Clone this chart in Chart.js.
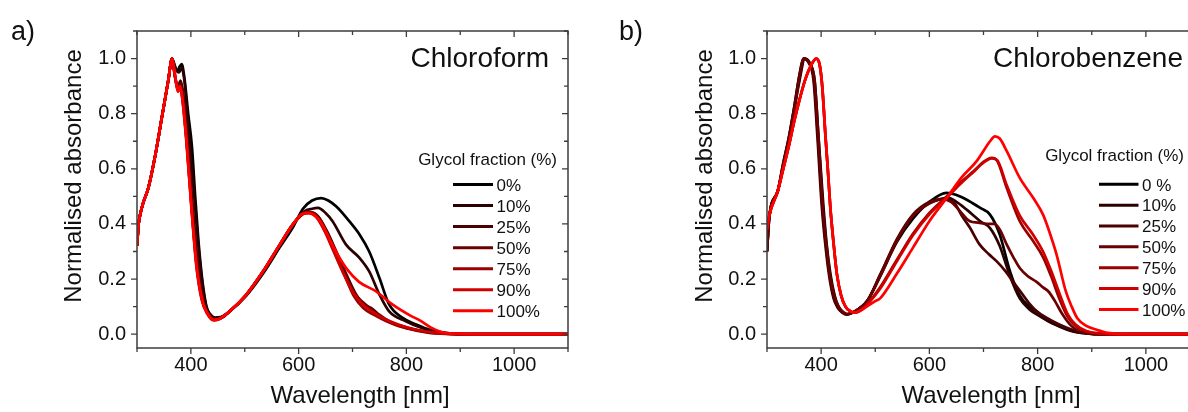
<!DOCTYPE html>
<html>
<head>
<meta charset="utf-8">
<script src="https://cdn.jsdelivr.net/npm/chart.js@4/dist/chart.umd.min.js"></script>
<style>
html,body{margin:0;padding:0;background:#fff;}
body{width:1188px;height:412px;overflow:hidden;position:relative;}
#cL{position:absolute;left:0;top:0;}
#cR{position:absolute;left:600px;top:0;}
</style>
</head>
<body>
<canvas id="cL" width="600" height="412"></canvas>
<canvas id="cR" width="640" height="412"></canvas>
<script>
// ---------- shared labels / ticks ----------
const seriesLabelsCF = ['0%','10%','25%','50%','75%','90%','100%'];
const seriesLabelsCB = ['0 %','10%','25%','50%','75%','90%','100%'];
const seriesColors = ['#000000','#2b0000','#4a0000','#6b0000','#990000','#d00000','#ff0000'];
const xTickValues = [400,600,800,1000];
const yTickValues = [0,0.2,0.4,0.6,0.8,1.0];

// ---------- Chloroform (a) ----------
const cf0_wl  = [300,303,306,312,321,334,346,358,365,370,375,379,383,388,395,402,408,414,421,429,437,445,455,472,503,534,565,590,608,625,642,655,670,694,713,731,750,768,793,818,845,880,920,1100];
const cf0_abs = [0.32,0.40,0.435,0.48,0.53,0.65,0.785,0.92,1.0,0.975,0.955,0.97,0.98,0.93,0.80,0.68,0.50,0.34,0.20,0.10,0.07,0.06,0.062,0.083,0.14,0.22,0.315,0.39,0.455,0.485,0.494,0.485,0.463,0.41,0.362,0.30,0.204,0.108,0.059,0.035,0.015,0.003,0,0];

const cf10_wl  = [300,303,306,312,321,334,346,358,365,372,378,383,388,395,402,408,414,421,429,437,445,455,472,503,534,565,590,610,625,636,650,663,688,713,731,750,768,799,825,850,880,920,1100];
const cf10_abs = [0.32,0.40,0.435,0.48,0.53,0.65,0.785,0.92,1.0,0.96,0.95,0.965,0.92,0.76,0.60,0.46,0.32,0.19,0.095,0.068,0.058,0.06,0.083,0.142,0.225,0.32,0.40,0.445,0.455,0.458,0.44,0.41,0.325,0.277,0.228,0.144,0.083,0.047,0.025,0.01,0.002,0,0];

const cf25_wl  = [300,303,306,312,321,334,346,358,365,371,376,381,386,393,400,407,414,422,431,440,448,460,472,503,534,565,590,610,620,635,651,670,688,705,720,735,750,770,800,840,880,920,1100];
const cf25_abs = [0.32,0.40,0.435,0.48,0.53,0.65,0.785,0.92,1.0,0.93,0.90,0.92,0.87,0.72,0.55,0.38,0.24,0.13,0.08,0.058,0.055,0.062,0.083,0.143,0.227,0.323,0.40,0.44,0.443,0.43,0.38,0.30,0.22,0.15,0.11,0.095,0.07,0.045,0.025,0.008,0.001,0,0];

const cf50_wl  = [300,303,306,312,321,334,346,358,365,371,376,381,385,392,400,408,416,424,433,443,452,472,503,534,565,590,612,622,637,652,670,688,705,720,735,755,775,800,840,880,920,1100];
const cf50_abs = [0.32,0.40,0.435,0.48,0.53,0.65,0.785,0.92,1.0,0.93,0.89,0.91,0.87,0.71,0.50,0.31,0.18,0.11,0.07,0.053,0.055,0.083,0.144,0.228,0.325,0.40,0.44,0.442,0.425,0.37,0.29,0.21,0.145,0.115,0.09,0.06,0.04,0.022,0.006,0.001,0,0];

const cf75_wl  = [300,303,306,312,321,334,346,358,365,370,376,380,384,392,401,410,420,431,442,452,472,503,534,565,590,610,620,635,650,668,686,702,720,740,760,785,810,850,890,920,1100];
const cf75_abs = [0.32,0.40,0.435,0.48,0.53,0.65,0.785,0.92,1.0,0.94,0.885,0.90,0.86,0.70,0.47,0.26,0.13,0.075,0.052,0.055,0.083,0.144,0.228,0.325,0.40,0.438,0.44,0.425,0.37,0.29,0.21,0.14,0.095,0.07,0.05,0.03,0.018,0.005,0.001,0,0];

const cf90_wl  = [300,303,306,312,321,334,346,358,365,370,376,380,384,392,401,410,420,431,442,452,472,503,534,565,590,608,618,632,648,665,682,700,718,738,760,785,810,850,890,920,1100];
const cf90_abs = [0.32,0.40,0.435,0.48,0.53,0.65,0.785,0.92,1.0,0.945,0.88,0.895,0.855,0.69,0.46,0.25,0.125,0.072,0.05,0.054,0.083,0.144,0.228,0.325,0.40,0.437,0.44,0.427,0.375,0.30,0.225,0.155,0.11,0.08,0.055,0.035,0.02,0.006,0.001,0,0];

const cf100_wl  = [300,303,306,312,321,334,346,358,365,370,376,380,384,392,401,411,423,433,443,452,472,503,534,565,590,605,615,630,645,660,675,690,712,744,774,805,825,845,865,890,950,1100];
const cf100_abs = [0.32,0.40,0.435,0.48,0.53,0.65,0.785,0.92,1.0,0.95,0.88,0.90,0.86,0.70,0.46,0.24,0.11,0.07,0.052,0.055,0.083,0.144,0.228,0.325,0.40,0.435,0.44,0.43,0.395,0.335,0.28,0.235,0.19,0.155,0.108,0.07,0.05,0.025,0.008,0.002,0,0];

// ---------- Chlorobenzene (b) ----------
const cb0_wl  = [300,304,320,330,340,350,360,370,380,388,395,404,410,417,425,432,440,448,460,485,509,540,570,600,632,650,663,680,694,712,730,749,767,785,800,817,840,865,890,920,1100];
const cb0_abs = [0.30,0.42,0.52,0.61,0.70,0.81,0.92,1.0,0.98,0.92,0.72,0.47,0.33,0.22,0.14,0.10,0.08,0.072,0.08,0.12,0.21,0.335,0.42,0.48,0.513,0.505,0.494,0.475,0.458,0.434,0.362,0.228,0.14,0.10,0.08,0.05,0.03,0.012,0.003,0,0];

const cb10_wl  = [300,304,320,330,340,350,360,368,378,387,394,402,408,416,424,432,440,448,460,485,509,540,570,600,620,635,650,670,694,712,730,749,767,785,800,817,840,865,890,920,1100];
const cb10_abs = [0.30,0.42,0.52,0.62,0.71,0.82,0.94,1.0,0.985,0.92,0.72,0.47,0.34,0.21,0.13,0.095,0.078,0.072,0.08,0.12,0.215,0.34,0.43,0.475,0.49,0.495,0.48,0.45,0.41,0.385,0.32,0.21,0.13,0.09,0.07,0.05,0.028,0.01,0.003,0,0];

const cb25_wl  = [300,304,320,330,340,350,360,367,377,386,393,401,407,415,423,431,439,447,460,485,509,540,570,600,630,645,660,675,693,710,724,740,755,770,786,800,817,840,865,890,920,1100];
const cb25_abs = [0.30,0.42,0.52,0.62,0.71,0.82,0.94,1.0,0.985,0.92,0.72,0.47,0.34,0.21,0.13,0.095,0.078,0.072,0.08,0.12,0.215,0.345,0.435,0.48,0.49,0.48,0.43,0.386,0.325,0.29,0.265,0.23,0.19,0.15,0.108,0.08,0.059,0.035,0.015,0.004,0,0];

const cb50_wl  = [300,304,320,330,340,350,360,369,379,388,395,403,409,417,425,433,441,449,460,485,509,540,570,600,625,640,655,675,690,706,720,730,743,755,767,782,798,810,820,832,845,860,875,900,920,1100];
const cb50_abs = [0.30,0.42,0.52,0.61,0.70,0.81,0.93,1.0,0.98,0.92,0.72,0.47,0.34,0.21,0.135,0.098,0.08,0.073,0.08,0.12,0.21,0.34,0.43,0.475,0.49,0.48,0.45,0.41,0.405,0.40,0.40,0.38,0.325,0.28,0.24,0.21,0.19,0.17,0.155,0.12,0.075,0.035,0.012,0.002,0,0];

const cb75_wl  = [300,304,320,330,340,350,360,370,380,391,397,402,408,413,417,423,429,437,445,453,462,475,490,509,540,570,600,632,660,681,700,715,725,743,767,792,810,825,840,855,870,890,920,950,1100];
const cb75_abs = [0.38,0.43,0.52,0.60,0.68,0.77,0.85,0.92,0.97,1.0,0.98,0.90,0.72,0.58,0.46,0.33,0.22,0.14,0.10,0.085,0.078,0.09,0.12,0.17,0.27,0.365,0.44,0.50,0.555,0.59,0.625,0.64,0.63,0.53,0.41,0.337,0.28,0.21,0.13,0.065,0.03,0.01,0.002,0,0];

const cb90_wl  = [300,304,320,330,340,350,360,370,380,391,397,402,408,413,417,423,429,437,445,453,462,475,490,509,540,570,600,632,660,681,700,715,725,743,767,792,810,825,840,855,870,890,920,950,1100];
const cb90_abs = [0.38,0.43,0.52,0.60,0.68,0.77,0.85,0.92,0.97,1.0,0.98,0.90,0.72,0.58,0.46,0.33,0.22,0.14,0.10,0.085,0.078,0.088,0.118,0.165,0.265,0.36,0.435,0.495,0.55,0.588,0.622,0.638,0.632,0.54,0.43,0.36,0.30,0.23,0.15,0.075,0.035,0.012,0.002,0,0];

const cb100_wl  = [300,304,320,330,340,350,360,370,380,391,397,402,408,413,417,423,429,437,445,453,462,480,500,509,540,570,600,632,660,687,705,712,721,730,743,767,792,810,822,835,852,863,873,890,908,930,960,1100];
const cb100_abs = [0.38,0.43,0.52,0.60,0.68,0.77,0.85,0.92,0.97,1.0,0.98,0.90,0.72,0.58,0.46,0.33,0.22,0.14,0.10,0.085,0.078,0.095,0.12,0.13,0.22,0.315,0.41,0.494,0.57,0.627,0.68,0.70,0.718,0.71,0.664,0.567,0.494,0.434,0.37,0.289,0.156,0.10,0.059,0.03,0.017,0.005,0,0];

const cfSeries = [[cf0_wl,cf0_abs],[cf10_wl,cf10_abs],[cf25_wl,cf25_abs],[cf50_wl,cf50_abs],[cf75_wl,cf75_abs],[cf90_wl,cf90_abs],[cf100_wl,cf100_abs]];
const cbSeries = [[cb0_wl,cb0_abs],[cb10_wl,cb10_abs],[cb25_wl,cb25_abs],[cb50_wl,cb50_abs],[cb75_wl,cb75_abs],[cb90_wl,cb90_abs],[cb100_wl,cb100_abs]];

const FONT = "'Liberation Sans', Arial, sans-serif";
const FRAME = '#3c3c3c';

function decorPlugin(cfg){
  return {
    id:'decor',
    afterDraw(chart){
      const ctx = chart.ctx, a = chart.chartArea;
      const xs = chart.scales.x, ys = chart.scales.y;
      ctx.save();
      // frame
      ctx.strokeStyle = FRAME; ctx.lineWidth = 1.5;
      ctx.strokeRect(a.left, a.top, a.right - a.left, a.bottom - a.top);
      // ticks
      ctx.lineWidth = 1.3;
      ctx.beginPath();
      for (let v = 300; v <= 1100; v += 100){
        const p = xs.getPixelForValue(v);
        const L = (v % 200 === 0) ? 6 : 4;
        ctx.moveTo(p, a.bottom); ctx.lineTo(p, a.bottom + L);
        ctx.moveTo(p, a.top); ctx.lineTo(p, a.top + L);
      }
      for (let k = 0; k <= 11; k++){
        const v = k / 10;
        const p = ys.getPixelForValue(v);
        const L = (k % 2 === 0) ? 6 : 4;
        ctx.moveTo(a.left, p); ctx.lineTo(a.left - L, p);
        ctx.moveTo(a.right, p); ctx.lineTo(a.right - L, p);
      }
      ctx.stroke();
      // texts
      ctx.fillStyle = '#111';
      ctx.textBaseline = 'alphabetic';
      ctx.font = '27px ' + FONT; ctx.textAlign = 'left';
      ctx.fillText(cfg.panel, cfg.panelX, 40);
      ctx.font = '28px ' + FONT; ctx.textAlign = 'right';
      ctx.fillText(cfg.solvent, cfg.solventRight, 66.5);
      ctx.font = '24px ' + FONT; ctx.textAlign = 'center';
      ctx.fillText('Wavelength [nm]', cfg.xTitleX, 403);
      ctx.save();
      ctx.translate(cfg.yTitleX, 176); ctx.rotate(-Math.PI/2);
      ctx.fillText('Normalised absorbance', 0, 0);
      ctx.restore();
      // legend
      ctx.font = '17px ' + FONT; ctx.textAlign = 'right';
      ctx.fillText('Glycol fraction (%)', cfg.legTitleRight, cfg.legTitleY);
      ctx.textAlign = 'left';
      chart.data.datasets.forEach((ds, i) => {
        const y = cfg.legY0 + i * cfg.legDY;
        ctx.strokeStyle = ds.borderColor; ctx.lineWidth = 3;
        ctx.beginPath(); ctx.moveTo(cfg.legX0, y); ctx.lineTo(cfg.legX1, y); ctx.stroke();
        ctx.fillStyle = '#111';
        ctx.fillText(ds.label, cfg.legX1 + 3.5, y + 6.3);
      });
      ctx.restore();
    }
  };
}

function makeChart(id, series, labels, yWidth, rightPad, cfg){
  const datasets = series.map((s, i) => ({
    label: labels[i],
    data: s[0].map((w, j) => ({x: w, y: s[1][j]})),
    borderColor: seriesColors[i],
    backgroundColor: seriesColors[i],
    borderWidth: 2.7,
    pointRadius: 0,
    cubicInterpolationMode: 'monotone',
    fill: false,
    order: series.length - 1 - i
  }));
  return new Chart(document.getElementById(id), {
    type: 'line',
    data: { datasets },
    options: {
      responsive: false,
      animation: false,
      events: [],
      layout: { padding: { top: 31, right: rightPad, left: 0, bottom: 0 } },
      plugins: { legend: { display: false }, tooltip: { enabled: false } },
      scales: {
        x: {
          type: 'linear', min: 300, max: 1100,
          afterBuildTicks: s => { s.ticks = xTickValues.map(v => ({ value: v })); },
          afterFit: s => { s.height = 64; },
          grid: { display: false, drawTicks: false },
          border: { display: false },
          ticks: { color: '#111', padding: 5, maxRotation: 0, autoSkip: false,
                   callback: v => String(v),
                   font: { family: FONT, size: 20 } }
        },
        y: {
          type: 'linear', min: -0.05, max: 1.1,
          afterBuildTicks: s => { s.ticks = yTickValues.map(v => ({ value: v })); },
          afterFit: s => { s.width = yWidth; },
          grid: { display: false, drawTicks: false },
          border: { display: false },
          ticks: { color: '#111', padding: 11, autoSkip: false,
                   callback: v => Number(v).toFixed(1),
                   font: { family: FONT, size: 20 } }
        }
      }
    },
    plugins: [decorPlugin(cfg)]
  });
}

makeChart('cL', cfSeries, seriesLabelsCF, 137, 32, {
  panel: 'a)', panelX: 11, solvent: 'Chloroform', solventRight: 549,
  xTitleX: 360, yTitleX: 80.5,
  legTitleRight: 557, legTitleY: 165, legX0: 453, legX1: 493, legY0: 184.5, legDY: 21.05
});
makeChart('cR', cbSeries, seriesLabelsCB, 167, 40, {
  panel: 'b)', panelX: 19, solvent: 'Chlorobenzene', solventRight: 583,
  xTitleX: 391, yTitleX: 112,
  legTitleRight: 584, legTitleY: 161, legX0: 499, legX1: 538.5, legY0: 184.3, legDY: 20.85
});
</script>
</body>
</html>
